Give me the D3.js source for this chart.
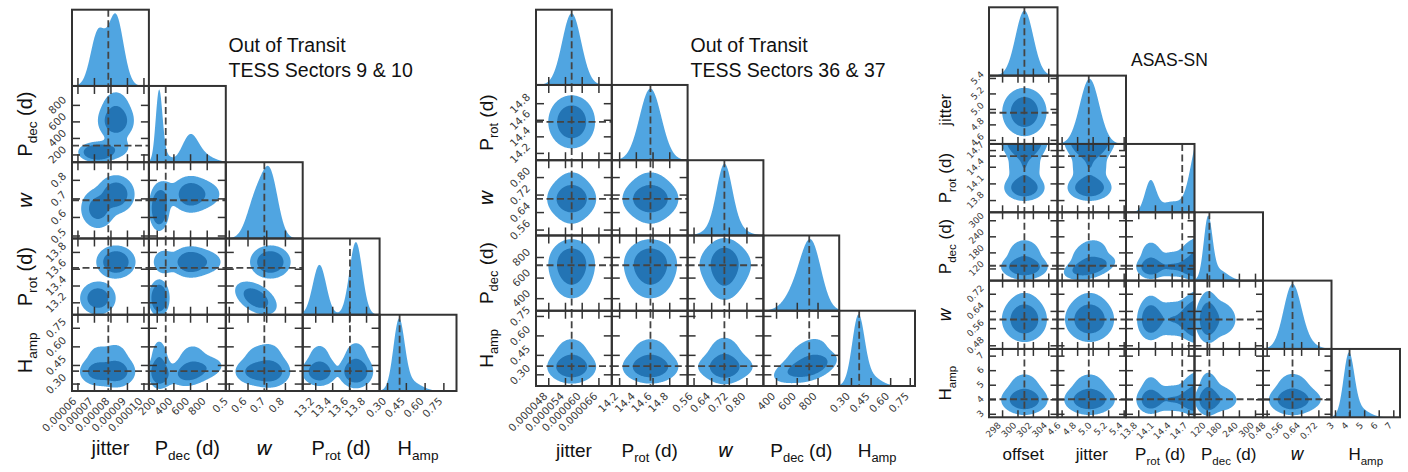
<!DOCTYPE html>
<html>
<head>
<meta charset="utf-8">
<script src="https://cdn.jsdelivr.net/npm/d3@7/dist/d3.min.js"></script>
<style>
  body { margin: 0; background: #fff; }
  svg { display: block; }
</style>
</head>
<body>
<svg id="fig" width="1408" height="472" xmlns="http://www.w3.org/2000/svg"></svg>
<script>
// Fill colours: 95% region / 1D marginals, and 68% region
const LIGHT = "#50a5e1";
const DARK = "#2374b4";

// ---------- Out of Transit, TESS Sectors 9 & 10 ----------
const s910Labels = ["jitter", "P|dec| (d)", "*w", "P|rot| (d)", "H|amp"];
const s910Ranges = [[0.0000567, 0.0001033], [106, 1029], [0.484, 0.895], [13.052, 13.96], [0.24, 0.855]];
const s910Ticks = [[0.00006, 0.00007, 0.00008, 0.00009, 0.0001], [200, 400, 600, 800], [0.5, 0.6, 0.7, 0.8], [13.2, 13.4, 13.6, 13.8], [0.3, 0.45, 0.6, 0.75]];
const s910TickText = [["0.00006", "0.00007", "0.00008", "0.00009", "0.00010"], ["200", "400", "600", "800"], ["0.5", "0.6", "0.7", "0.8"], ["13.2", "13.4", "13.6", "13.8"], ["0.30", "0.45", "0.60", "0.75"]];
const s910Truth = [0.0000787, 308, 0.69, 13.61, 0.40];
// posterior modes: weight, Gaussian mixture [weight, mean, sd] per parameter,
// and shears [from, to, slope, reference]
const s910Hamp = [[0.78, 0.395, 0.042], [0.22, 0.48, 0.085]];
const s910Modes = [
  { w: 0.42, g: [[[1, 0.0000724, 0.0000044]], [[1, 228, 40]], [[1, 0.645, 0.046]], [[1, 13.25, 0.07]], s910Hamp], tilt: [[2, 3, -0.8, 0.645]] },
  { w: 0.58, g: [[[1, 0.0000833, 0.0000046]], [[0.66, 600, 95], [0.2, 770, 120], [0.14, 290, 70]], [[1, 0.722, 0.042]], [[1, 13.68, 0.075]], s910Hamp], tilt: [[1, 4, 0.00012, 600]] }
];

// ---------- Out of Transit, TESS Sectors 36 & 37 ----------
const s3637Labels = ["jitter", "P|rot| (d)", "*w", "P|dec| (d)", "H|amp"];
const s3637Ranges = [[0.0000436, 0.0000708], [14.112, 15.02], [0.533, 0.877], [278, 1009], [0.21, 0.79]];
const s3637Ticks = [[0.000048, 0.000054, 0.00006, 0.000066], [14.2, 14.4, 14.6, 14.8], [0.56, 0.64, 0.72, 0.8], [400, 600, 800], [0.3, 0.45, 0.6, 0.75]];
const s3637TickText = [["0.000048", "0.000054", "0.000060", "0.000066"], ["14.2", "14.4", "14.6", "14.8"], ["0.56", "0.64", "0.72", "0.80"], ["400", "600", "800"], ["0.30", "0.45", "0.60", "0.75"]];
const s3637Truth = [0.0000564, 14.575, 0.70, 720, 0.363];
const s3637Modes = [
  { w: 1, g: [[[1, 0.0000564, 0.0000034]], [[1, 14.575, 0.13]], [[0.65, 0.70, 0.034], [0.35, 0.705, 0.06]], [[0.7, 745, 95], [0.3, 610, 110]], [[0.75, 0.358, 0.04], [0.25, 0.43, 0.08]]], tilt: [[3, 4, 0.0002, 720]] }
];

// ---------- ASAS-SN ----------
const asasLabels = ["offset", "jitter", "P|rot| (d)", "P|dec| (d)", "*w", "H|amp"];
const asasRanges = [[296.3, 305.2], [4.547, 5.43], [13.58, 14.81], [74.5, 329.8], [0.463, 0.781], [2.76, 7.46]];
const asasTicks = [[298, 300, 302, 304], [4.6, 4.8, 5.0, 5.2, 5.4], [13.8, 14.1, 14.4, 14.7], [120, 180, 240, 300], [0.48, 0.56, 0.64, 0.72], [3, 4, 5, 6, 7]];
const asasTickText = [["298", "300", "302", "304"], ["4.6", "4.8", "5.0", "5.2", "5.4"], ["13.8", "14.1", "14.4", "14.7"], ["120", "180", "240", "300"], ["0.48", "0.56", "0.64", "0.72"], ["3", "4", "5", "6", "7"]];
const asasTruth = [300.9, 4.95, 14.59, 130, 0.60, 4.0];
const asasOffset = [[1, 300.9, 1.15]];
const asasJitter = [[1, 4.96, 0.125]];
const asasPdec = [[0.7, 125, 14], [0.3, 160, 35]];
const asasW = [[0.8, 0.598, 0.04], [0.2, 0.63, 0.055]];
const asasHamp = [[0.75, 3.95, 0.36], [0.25, 4.5, 0.7]];
const asasModes = [
  { w: 0.16, g: [asasOffset, asasJitter, [[1, 14.02, 0.1]], asasPdec, asasW, asasHamp], tilt: [[1, 3, 60, 4.96]] },
  { w: 0.11, g: [asasOffset, asasJitter, [[1, 14.40, 0.2]], asasPdec, asasW, asasHamp], tilt: [[1, 3, 60, 4.96]] },
  { w: 0.60, g: [asasOffset, asasJitter, [[1, 14.90, 0.15]], asasPdec, asasW, asasHamp], tilt: [[1, 3, 60, 4.96]] }
];

const svg = d3.select("#fig");
let clipCount = 0;

function gauss(x, m, s) { const z = (x - m) / s; return Math.exp(-0.5 * z * z) / (s * 2.5066282746); }
function mixPdf(mix, x) { let v = 0; for (const [w, m, s] of mix) v += w * gauss(x, m, s); return v; }

// marginal mixture of parameter i within a mode (includes any shear onto it)
function marginal(mode, i) {
  const t = (mode.tilt || []).find(t => t[1] === i);
  if (!t) return mode.g[i];
  const [a, , k, ref] = t;
  const out = [];
  for (const [wp, mp, sp] of mode.g[a])
    for (const [wq, mq, sq] of mode.g[i])
      out.push([wp * wq, mq + k * (mp - ref), Math.sqrt(sq * sq + k * k * sp * sp)]);
  return out;
}

// joint density of parameters c (x) and r (y) within a mode
function pairPdf(mode, c, r, x, y) {
  const tilts = mode.tilt || [];
  let t = tilts.find(t => t[0] === c && t[1] === r);
  if (t) return mixPdf(marginal(mode, c), x) * mixPdf(mode.g[r], y - t[2] * (x - t[3]));
  t = tilts.find(t => t[0] === r && t[1] === c);
  if (t) return mixPdf(marginal(mode, r), y) * mixPdf(mode.g[c], x - t[2] * (y - t[3]));
  return mixPdf(marginal(mode, c), x) * mixPdf(marginal(mode, r), y);
}

// 2D histograms are smoothed by a kernel of a fixed fraction of each range
function smoothMode(mode, ranges, frac) {
  return {
    w: mode.w,
    tilt: mode.tilt,
    g: mode.g.map((mix, i) => {
      const h = frac * (ranges[i][1] - ranges[i][0]);
      return mix.map(([w, m, s]) => [w, m, Math.sqrt(s * s + h * h)]);
    })
  };
}

// density thresholds enclosing the given probability fractions
function massLevels(vals, fracs) {
  const s = Float64Array.from(vals).sort().reverse();
  const tot = d3.sum(s);
  return fracs.map(f => {
    let cum = 0, k = 0;
    while (k < s.length && cum < f * tot) cum += s[k++];
    return s[Math.max(0, k - 1)];
  });
}

// axis title: "plain", "*italic" or "Main|sub|rest"
function writeLabel(sel, spec, size) {
  if (spec[0] === "*") {
    sel.append("tspan").attr("font-family", "DejaVu Sans").attr("font-style", "italic").text(spec.slice(1));
    return;
  }
  const parts = spec.split("|");
  sel.append("tspan").text(parts[0]);
  if (parts.length > 1) {
    sel.append("tspan").attr("font-size", size * 0.68).attr("dy", size * 0.27).text(parts[1]);
    if (parts[2]) sel.append("tspan").attr("dy", -size * 0.27).text(parts[2]);
  }
}

// tick label rotated by 45 degrees, aligned by its rotated bounding box
function rotLabel(g, text, fs, placeFn) {
  const t = g.append("text")
    .attr("font-family", "DejaVu Sans")
    .attr("font-size", fs)
    .attr("fill", "#3a3a3a")
    .attr("text-anchor", "middle")
    .attr("dominant-baseline", "central")
    .text(text);
  const L = t.node().getComputedTextLength();
  const W = (L + 0.8 * fs) * Math.SQRT1_2;
  const [cx, cy] = placeFn(W);
  t.attr("transform", `translate(${cx},${cy}) rotate(-45)`);
}

function drawPanel(o) {
  const n = o.labels.length;
  const root = svg.append("g");
  const norm = d3.sum(o.modes, m => m.w);
  const modes2 = o.modes.map(m => smoothMode(m, o.ranges, o.smooth));
  const NG = 110;

  for (let r = 0; r < n; r++) {
    for (let c = 0; c <= r; c++) {
      const x0 = o.x0 + c * o.cw, y0 = o.y0 + r * o.ch;
      const xs = d3.scaleLinear().domain(o.ranges[c]).range([x0, x0 + o.cw]);
      const cell = root.append("g");
      const id = "cellclip" + (clipCount++);
      cell.append("clipPath").attr("id", id)
        .append("rect").attr("x", x0).attr("y", y0).attr("width", o.cw).attr("height", o.ch);
      const body = cell.append("g").attr("clip-path", `url(#${id})`);
      const dash = (sel) => sel.attr("stroke", "#444").attr("stroke-width", 1.8).attr("stroke-dasharray", "7,3.5").attr("fill", "none");
      let ys;

      if (r === c) {
        const [lo, hi] = o.ranges[c];
        const N = 320;
        const pts = d3.range(N + 1).map(k => {
          const x = lo + (hi - lo) * k / N;
          return [x, d3.sum(o.modes, m => m.w * mixPdf(marginal(m, c), x)) / norm];
        });
        const ymax = d3.max(pts, p => p[1]);
        ys = d3.scaleLinear().domain([0, ymax * 1.05]).range([y0 + o.ch, y0]);
        body.append("path").datum(pts).attr("fill", LIGHT)
          .attr("d", d3.area().x(p => xs(p[0])).y0(ys(0)).y1(p => ys(p[1])));
        body.append("line").call(dash)
          .attr("x1", xs(o.truth[c])).attr("x2", xs(o.truth[c])).attr("y1", y0).attr("y2", y0 + o.ch);
      } else {
        ys = d3.scaleLinear().domain(o.ranges[r]).range([y0 + o.ch, y0]);
        const [xl, xh] = o.ranges[c], [yl, yh] = o.ranges[r];
        const dx = (xh - xl) / NG, dy = (yh - yl) / NG;
        const vals = new Float64Array(NG * NG);
        for (let j = 0; j < NG; j++) {
          const y = yh - (j + 0.5) * dy;
          for (let i = 0; i < NG; i++) {
            const x = xl + (i + 0.5) * dx;
            let v = 0;
            for (const m of modes2) v += m.w * pairPdf(m, c, r, x, y);
            vals[j * NG + i] = v;
          }
        }
        const [t68, t95] = massLevels(vals, [0.68, 0.95]);
        const gen = d3.contours().size([NG, NG]);
        const proj = d3.geoTransform({
          point(px, py) { this.stream.point(xs(xl + px * dx), ys(yh - py * dy)); }
        });
        const path = d3.geoPath(proj);
        body.append("path").attr("fill", LIGHT).attr("d", path(gen.contour(vals, t95)));
        body.append("path").attr("fill", DARK).attr("d", path(gen.contour(vals, t68)));
        body.append("line").call(dash)
          .attr("x1", xs(o.truth[c])).attr("x2", xs(o.truth[c])).attr("y1", y0).attr("y2", y0 + o.ch);
        body.append("line").call(dash)
          .attr("x1", x0).attr("x2", x0 + o.cw).attr("y1", ys(o.truth[r])).attr("y2", ys(o.truth[r]));
      }

      // inward ticks
      const tickStyle = (g) => {
        g.select(".domain").remove();
        g.selectAll(".tick line").attr("stroke", "#333").attr("stroke-width", 1.5);
      };
      cell.append("g").attr("transform", `translate(0,${y0 + o.ch})`)
        .call(d3.axisBottom(xs).tickValues(o.ticks[c]).tickSize(-o.tickLen).tickFormat("")).call(tickStyle);
      if (r !== c) {
        cell.append("g").attr("transform", `translate(0,${y0})`)
          .call(d3.axisTop(xs).tickValues(o.ticks[c]).tickSize(-o.tickLen).tickFormat("")).call(tickStyle);
        cell.append("g").attr("transform", `translate(${x0},0)`)
          .call(d3.axisLeft(ys).tickValues(o.ticks[r]).tickSize(-o.tickLen).tickFormat("")).call(tickStyle);
        cell.append("g").attr("transform", `translate(${x0 + o.cw},0)`)
          .call(d3.axisRight(ys).tickValues(o.ticks[r]).tickSize(-o.tickLen).tickFormat("")).call(tickStyle);
      }

      cell.append("rect").attr("x", x0).attr("y", y0).attr("width", o.cw).attr("height", o.ch)
        .attr("fill", "none").attr("stroke", "#333").attr("stroke-width", 2);

      // bottom row: tick labels and parameter names
      if (r === n - 1) {
        o.ticks[c].forEach((v, k) => {
          rotLabel(root, o.tickText[c][k], o.tickFs, W => [xs(v) - W / 2, y0 + o.ch + o.pad + W / 2]);
        });
        const t = root.append("text")
          .attr("x", x0 + o.cw / 2).attr("y", o.bottomBase)
          .attr("text-anchor", "middle")
          .attr("font-family", "Liberation Sans, Arial, sans-serif")
          .attr("font-size", o.labelFs).attr("fill", "#111");
        writeLabel(t, o.labels[c], o.labelFs);
      }
      // first column: tick labels and parameter names
      if (c === 0 && r > 0) {
        const ysr = d3.scaleLinear().domain(o.ranges[r]).range([y0 + o.ch, y0]);
        o.ticks[r].forEach((v, k) => {
          rotLabel(root, o.tickText[r][k], o.tickFs, W => [x0 - o.pad - W / 2, ysr(v)]);
        });
        const cy = y0 + o.ch / 2;
        const t = root.append("text")
          .attr("transform", `translate(${o.leftBase},${cy}) rotate(-90)`)
          .attr("text-anchor", "middle")
          .attr("font-family", "Liberation Sans, Arial, sans-serif")
          .attr("font-size", o.labelFs).attr("fill", "#111");
        writeLabel(t, o.labels[r], o.labelFs);
      }
    }
  }
}

drawPanel({
  labels: s910Labels, ranges: s910Ranges, ticks: s910Ticks, tickText: s910TickText, truth: s910Truth, modes: s910Modes,
  x0: 72, y0: 9.7, cw: 76.9, ch: 76.26, tickLen: 8, tickFs: 10.5, pad: 5, labelFs: 20, bottomBase: 455, leftBase: 31.5, smooth: 0.03
});
drawPanel({
  labels: s3637Labels, ranges: s3637Ranges, ticks: s3637Ticks, tickText: s3637TickText, truth: s3637Truth, modes: s3637Modes,
  x0: 536, y0: 9.7, cw: 75.8, ch: 75.26, tickLen: 8, tickFs: 10.5, pad: 5, labelFs: 19, bottomBase: 457, leftBase: 493, smooth: 0.02
});
drawPanel({
  labels: asasLabels, ranges: asasRanges, ticks: asasTicks, tickText: asasTickText, truth: asasTruth, modes: asasModes,
  x0: 989, y0: 7.3, cw: 68.5, ch: 68.33, tickLen: 7, tickFs: 9, pad: 4, labelFs: 17, bottomBase: 460, leftBase: 951, smooth: 0.03
});

// panel titles
const titleFont = "Liberation Sans, Arial, sans-serif";
const titles = [
  { x: 228.5, y: 52.3, s: "Out of Transit", fs: 19.5 },
  { x: 228.5, y: 77.3, s: "TESS Sectors 9 & 10", fs: 19.5 },
  { x: 690.5, y: 52.3, s: "Out of Transit", fs: 19.5 },
  { x: 690.5, y: 77.3, s: "TESS Sectors 36 & 37", fs: 19.5 },
  { x: 1131, y: 66, s: "ASAS-SN", fs: 17.5 }
];
svg.selectAll("text.title").data(titles).enter().append("text")
  .attr("class", "title")
  .attr("x", d => d.x).attr("y", d => d.y)
  .attr("font-family", titleFont).attr("font-size", d => d.fs).attr("fill", "#111")
  .text(d => d.s);
</script>
</body>
</html>
